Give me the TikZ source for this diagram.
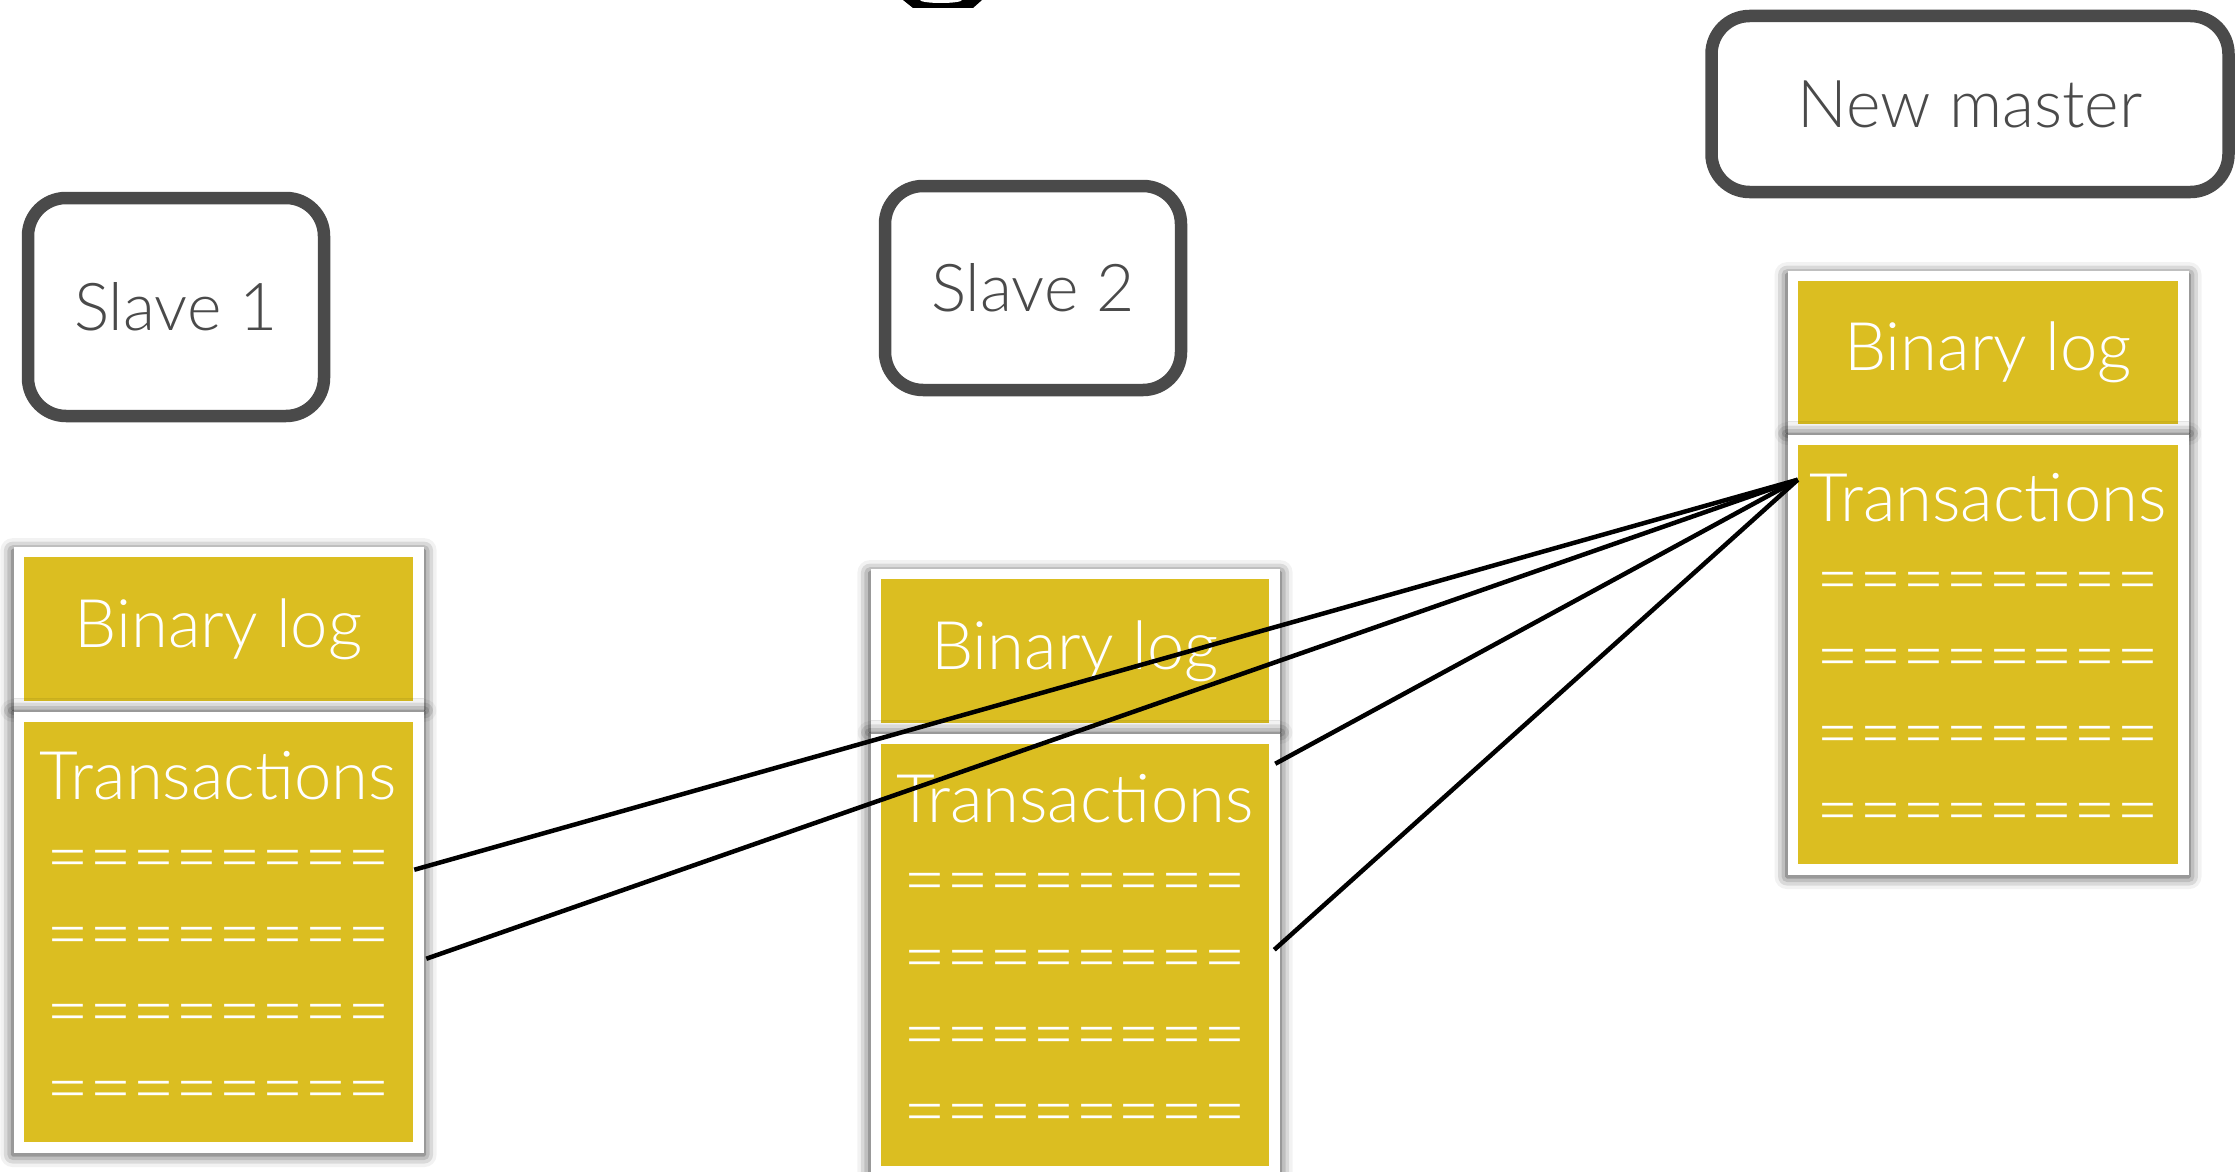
\documentclass[tikz,border=0pt]{standalone}
\usepackage{fontspec}
\IfFontExistsTF{Lato Light}{\setmainfont{Lato Light}}{\setmainfont{Lato}}
\usetikzlibrary{positioning}
\usetikzlibrary{shadows.blur}
\definecolor{logyellow}{HTML}{DBBE21}
\definecolor{chalk}{HTML}{4A4A4A}
\tikzset{
  logbox/.style={fill=logyellow, draw=white, line width=10.5pt,
    inner sep=0pt, outer sep=0pt, text=white, align=center,
    font=\fontsize{67}{77}\selectfont,
    blur shadow={shadow xshift=0pt, shadow yshift=-1pt, shadow scale=1.03,
      shadow blur radius=12pt, shadow opacity=80}},
  chalkbox/.style={draw=chalk, line width=12.5pt, rounded corners=38pt,
    inner sep=0pt, text=chalk, font=\fontsize{66}{70}\selectfont},
  feedline/.style={draw=black, line width=4.5pt}
}
\newcommand{\eqrow}{{\fontsize{74}{77}\selectfont ========}}
\newcommand{\txrows}{Transactions\\[6pt]\eqrow\\\eqrow\\\eqrow\\\eqrow}

\begin{document}
\begin{tikzpicture}[x=1pt,y=-1pt,node distance=10.5pt]
\useasboundingbox (0,0) rectangle (2235,1172);
% top edge piece
\fill (903,0) -- (913,8) -- (973,8) -- (982,0) -- cycle;
\fill[white] (941,0) ellipse [x radius=21, y radius=3];
% servers
\node[chalkbox, minimum width=296pt, minimum height=218pt] (slaveone) at (176,307) {Slave 1};
\node[chalkbox, minimum width=296pt, minimum height=204pt] (slavetwo) at (1033,288) {Slave 2};
\node[chalkbox, minimum width=517pt, minimum height=176pt] (newmaster) at (1970,104) {New master};
% logs
\node[logbox, minimum width=399.5pt, minimum height=154.5pt] (binlogone) at (218.5,629) {Binary log};
\node[logbox, minimum width=399.5pt, minimum height=430.5pt, below=of binlogone] (transone) {\txrows};
\node[logbox, minimum width=398.5pt, minimum height=154.5pt] (binlogtwo) at (1075,651) {Binary log};
\node[logbox, minimum width=398.5pt, minimum height=432.5pt, below=of binlogtwo] (transtwo) {\txrows};
\node[logbox, minimum width=390.5pt, minimum height=153.5pt] (binlognew) at (1988,352.5) {Binary log};
\node[logbox, minimum width=390.5pt, minimum height=429.5pt, below=of binlognew] (transnew) {\txrows};
% feeds
\coordinate (feed) at ([shift={(5,40)}]transnew.north west);
\coordinate (outa) at ([shift={(-4,153)}]transone.north east);
\coordinate (outb) at ([shift={(8,242)}]transone.north east);
\coordinate (outc) at ([shift={(1,25)}]transtwo.north east);
\coordinate (outd) at ([shift={(0,211)}]transtwo.north east);
\draw[feedline] (feed) -- (outa);
\draw[feedline] (feed) -- (outb);
\draw[feedline] (feed) -- (outc);
\draw[feedline] (feed) -- (outd);
\end{tikzpicture}
\end{document}
